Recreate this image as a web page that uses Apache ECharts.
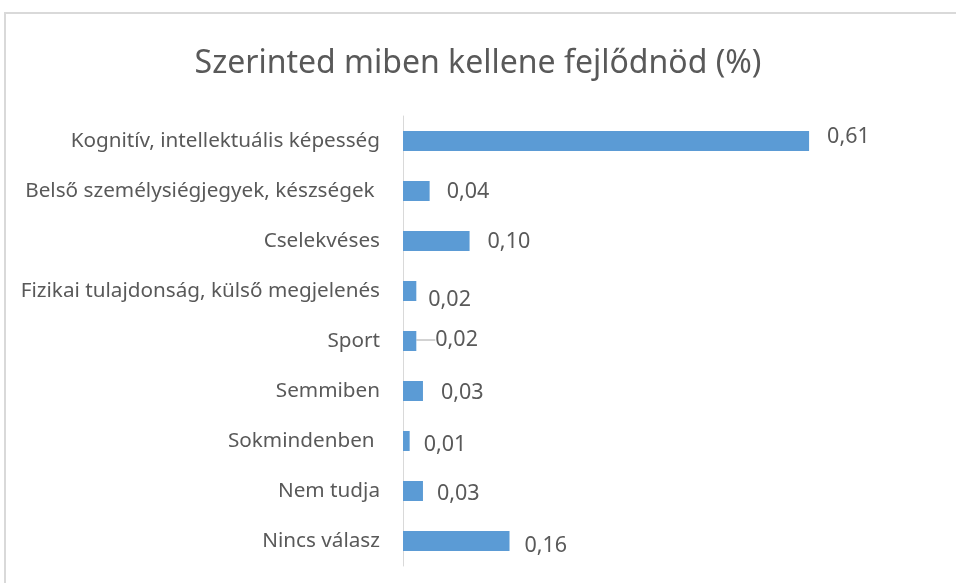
<!DOCTYPE html>
<html>
<head>
<meta charset="utf-8">
<script src="https://cdn.jsdelivr.net/npm/echarts@6/dist/echarts.min.js"></script>
<style>
  html, body { margin: 0; padding: 0; background: #fff; }
  #chart { width: 956px; height: 583px; }
</style>
</head>
<body>
<div id="chart"></div>
<script>
// kategóriák felülről lefelé
const categories = [
  "Kognitív, intellektuális képesség",
  "Belső személysiégjegyek, készségek ",
  "Cselekvéses",
  "Fizikai tulajdonság, külső megjelenés",
  "Sport",
  "Semmiben",
  "Sokmindenben ",
  "Nem tudja",
  "Nincs válasz"
];
const values = [0.61, 0.04, 0.10, 0.02, 0.02, 0.03, 0.01, 0.03, 0.16];

// címkék eltolása (mint az eredeti Excel ábrán)
const labelNudge = [[3, -4], [2, 1], [3, 1], [-3, 9], [4, -1], [3, 2], [-1, 4], [-1, 3], [0, 5]];
const leaderIndex = 4;

const textColor = "#595959";
const font = "Noto Sans";

const chart = echarts.init(document.getElementById("chart"));

chart.setOption({
  animation: false,
  title: {
    text: "Szerinted miben kellene fejlődnöd (%)",
    left: "center",
    top: 43,
    textStyle: { fontFamily: font, fontSize: 32, fontWeight: "normal", color: textColor }
  },
  graphic: [{
    type: "rect",
    shape: { x: 5, y: 13, width: 1200, height: 1200 },
    style: { fill: "none", stroke: "#d9d9d9", lineWidth: 2 },
    silent: true
  }],
  grid: { left: 403, top: 116, width: 466, height: 450 },
  xAxis: {
    type: "value",
    min: 0,
    max: 0.7,
    show: false
  },
  yAxis: {
    type: "category",
    data: categories,
    inverse: true,
    axisLine: { lineStyle: { color: "#d9d9d9" } },
    axisTick: { show: false },
    axisLabel: { margin: 23, fontFamily: font, fontSize: 20.7, color: textColor }
  },
  series: [{
    type: "bar",
    barWidth: 20,
    itemStyle: { color: "#5B9BD5" },
    data: values.map((v, i) => ({
      value: v,
      labelLine: { show: i === leaderIndex }
    })),
    label: {
      show: true,
      position: "right",
      distance: 15,
      fontFamily: font,
      fontSize: 21.5,
      color: textColor,
      formatter: p => p.value.toFixed(2).replace(".", ",")
    },
    labelLayout: p => ({ dx: labelNudge[p.dataIndex][0], dy: labelNudge[p.dataIndex][1] }),
    labelLine: { show: false, lineStyle: { color: "#a6a6a6", width: 1 } }
  }]
});
</script>
</body>
</html>
